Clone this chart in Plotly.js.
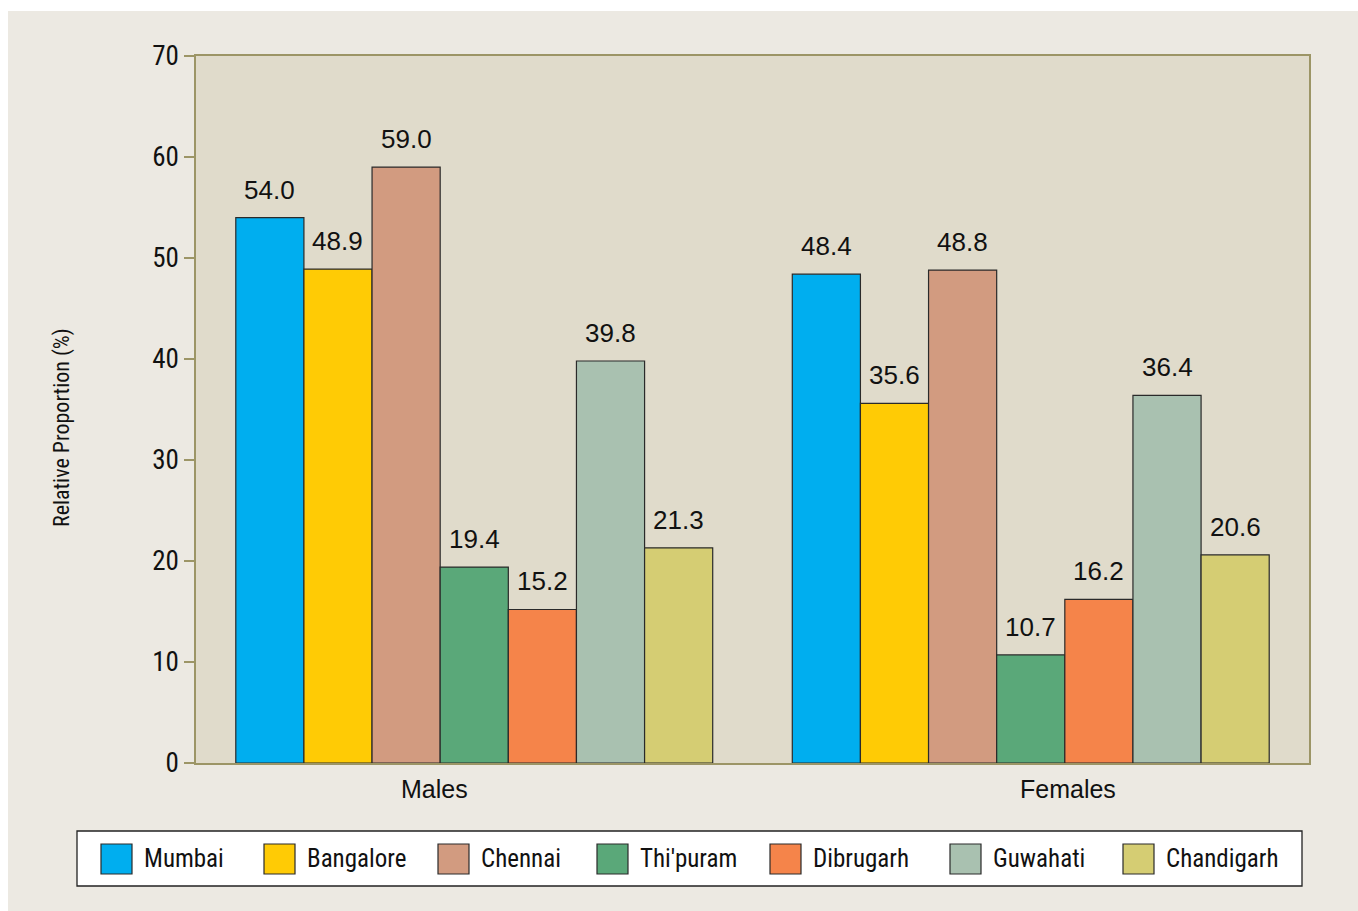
<!DOCTYPE html>
<html>
<head>
<meta charset="utf-8">
<script src="https://cdn.plot.ly/plotly-3.0.1.min.js"></script>
<style>
html,body{margin:0;padding:0;background:#ffffff;}
#chart{position:absolute;left:8px;top:11px;width:1350px;height:900px;}
</style>
</head>
<body>
<div id="chart"></div>
<script>
const categories = ["Males", "Females"];
const cities = ["Mumbai", "Bangalore", "Chennai", "Thi'puram", "Dibrugarh", "Guwahati", "Chandigarh"];
const mumbai = [54.0, 48.4];
const bangalore = [48.9, 35.6];
const chennai = [59.0, 48.8];
const thiruvananthapuram = [19.4, 10.7];
const dibrugarh = [15.2, 16.2];
const guwahati = [39.8, 36.4];
const chandigarh = [21.3, 20.6];
const seriesValues = [mumbai, bangalore, chennai, thiruvananthapuram, dibrugarh, guwahati, chandigarh];
const yTicks = [0, 10, 20, 30, 40, 50, 60, 70];

// ---- styles ----
const colors = ["#00AEEF", "#FFCB05", "#D29B80", "#5AA879", "#F5844A", "#A9C1B0", "#D5CD73"];
const narrow = "Liberation Sans Narrow, Arial Narrow, Roboto Condensed, sans-serif";
const regular = "Liberation Sans, Arial, sans-serif";
const W = 1350, H = 900;
const margin = {l: 188, r: 49, t: 45, b: 148, pad: 0};
const bargap = 0.143;
const plotW = W - margin.l - margin.r;
const plotH = H - margin.t - margin.b;
const barW = plotW / categories.length * (1 - bargap) / cities.length;
// page-pixel helpers (div offset 8,11)
const px = v => (v - 8 - margin.l) / plotW;
const py = v => (11 + margin.t + plotH - v) / plotH;
const categoryLabelShift = [-40, 37];
const legendSwatchLeft = [101, 264, 438, 597, 770, 950, 1123];
const legendBox = {x0: 77, x1: 1302, y0: 831, y1: 886};

const traces = cities.map((name, i) => ({
  type: "bar",
  name: name,
  x: categories,
  y: seriesValues[i],
  marker: {color: colors[i], line: {color: "#2a2a2a", width: 1.2}},
  hoverinfo: "name+y",
  showlegend: false
}));

const annotations = [];
cities.forEach((name, i) => {
  categories.forEach((c, j) => {
    annotations.push({
      x: c, y: seriesValues[i][j], xref: "x", yref: "y",
      text: seriesValues[i][j].toFixed(1),
      showarrow: false,
      xanchor: "center", yanchor: "bottom",
      xshift: (i - (cities.length - 1) / 2) * barW,
      yshift: 11,
      font: {family: regular, size: 26, color: "#111"}
    });
  });
});
categories.forEach((c, j) => {
  annotations.push({
    x: c, y: 0, xref: "x", yref: "y",
    text: c, showarrow: false,
    xanchor: "center", yanchor: "top",
    xshift: categoryLabelShift[j], yshift: -10,
    font: {family: regular, size: 25, color: "#111"}
  });
});
annotations.push({
  x: px(62), y: py(428), xref: "paper", yref: "paper",
  text: "Relative Proportion (%)", textangle: -90, showarrow: false,
  xanchor: "center", yanchor: "middle",
  font: {family: narrow, size: 22, color: "#111"}
});

const shapes = [{
  type: "rect", xref: "paper", yref: "paper",
  x0: px(legendBox.x0), x1: px(legendBox.x1), y0: py(legendBox.y1), y1: py(legendBox.y0),
  fillcolor: "#ffffff", line: {color: "#222222", width: 1.3}, layer: "above"
}];
cities.forEach((name, i) => {
  const left = legendSwatchLeft[i];
  shapes.push({
    type: "rect", xref: "paper", yref: "paper",
    x0: px(left), x1: px(left + 31), y0: py(874), y1: py(844),
    fillcolor: colors[i], line: {color: "#2a2a2a", width: 1.2}, layer: "above"
  });
  annotations.push({
    x: px(left + 41), y: py(858), xref: "paper", yref: "paper",
    text: name, showarrow: false, xanchor: "left", yanchor: "middle",
    font: {family: narrow, size: 25, color: "#111"}
  });
});

const layout = {
  width: W, height: H,
  margin: margin,
  paper_bgcolor: "#ECE9E2",
  plot_bgcolor: "#E0DBCB",
  barmode: "group",
  bargap: bargap,
  bargroupgap: 0,
  showlegend: false,
  xaxis: {
    type: "category",
    showline: true, linecolor: "#9C9566", linewidth: 1.5, mirror: true,
    ticks: "", showgrid: false, zeroline: false, showticklabels: false
  },
  yaxis: {
    range: [0, 70],
    tickvals: yTicks,
    ticktext: yTicks.map(String),
    showline: true, linecolor: "#9C9566", linewidth: 1.5, mirror: true,
    ticks: "outside", ticklen: 10, tickcolor: "#9C9566", tickwidth: 1.5,
    showgrid: false, zeroline: false,
    tickfont: {family: narrow, size: 27, color: "#111"}
  },
  annotations: annotations,
  shapes: shapes,
  font: {family: regular}
};

Plotly.newPlot("chart", traces, layout, {displayModeBar: false, responsive: false});
</script>
</body>
</html>
